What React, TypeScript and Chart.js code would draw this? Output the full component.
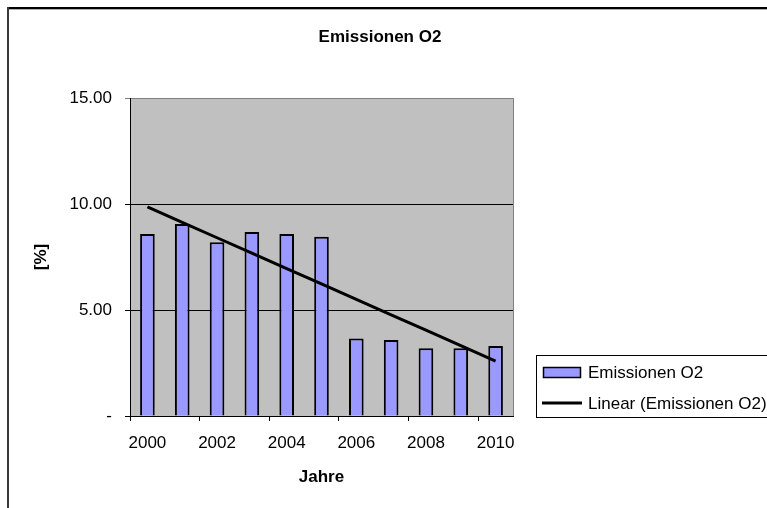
import React, { useEffect, useRef } from "react";
import { Chart, registerables } from "chart.js";

Chart.register(...registerables);

const years = ["2000", "2001", "2002", "2003", "2004", "2005", "2006", "2007", "2008", "2009", "2010"];
const emissions = [8.58, 9.06, 8.2, 8.68, 8.58, 8.46, 3.66, 3.58, 3.2, 3.2, 3.3];
const yTicks = [0, 5, 10, 15];
const chartTitle = "Emissionen O2";
const yTitle = "[%]";
const xTitle = "Jahre";
const seriesName = "Emissionen O2";
const trendName = "Linear (Emissionen O2)";

// least-squares linear trend of the series (as Excel's "Linear" trendline)
function linearTrend(vals: number[]): number[] {
  const n = vals.length;
  const mx = (n - 1) / 2;
  const my = vals.reduce((a, b) => a + b, 0) / n;
  let num = 0;
  let den = 0;
  vals.forEach((v, i) => {
    num += (i - mx) * (v - my);
    den += (i - mx) * (i - mx);
  });
  const slope = num / den;
  return vals.map((_, i) => my + slope * (i - mx));
}

const FONT = "'Liberation Sans', Arial, sans-serif";
const BAR_COLOR = "#9999FF";

const decorPlugin = {
  id: "decor",
  beforeDraw(chart: any) {
    const { ctx, chartArea } = chart;
    ctx.save();
    ctx.fillStyle = "#ffffff";
    ctx.fillRect(0, 0, chart.width, chart.height);
    ctx.fillStyle = "#C0C0C0";
    ctx.fillRect(chartArea.left, chartArea.top, chartArea.right - chartArea.left, chartArea.bottom - chartArea.top);
    ctx.restore();
  },
  afterDraw(chart: any) {
    const { ctx, chartArea } = chart;
    ctx.save();
    // outer chart border
    ctx.strokeStyle = "#000000";
    ctx.lineWidth = 2;
    ctx.beginPath();
    ctx.moveTo(7, 8);
    ctx.lineTo(chart.width, 8);
    ctx.stroke();
    ctx.strokeStyle = "#b0b0b0";
    ctx.lineWidth = 1;
    ctx.beginPath();
    ctx.moveTo(9, 9.5);
    ctx.lineTo(chart.width, 9.5);
    ctx.stroke();
    ctx.strokeStyle = "#3a3a3a";
    ctx.lineWidth = 2;
    ctx.beginPath();
    ctx.moveTo(8, 7);
    ctx.lineTo(8, chart.height);
    ctx.stroke();

    // plot area right border
    ctx.strokeStyle = "#808080";
    ctx.lineWidth = 1;
    ctx.beginPath();
    ctx.moveTo(chartArea.right + 0.5, chartArea.top);
    ctx.lineTo(chartArea.right + 0.5, chartArea.bottom);
    ctx.stroke();

    // titles
    ctx.fillStyle = "#000000";
    ctx.textAlign = "center";
    ctx.textBaseline = "middle";
    ctx.font = `bold 17px ${FONT}`;
    ctx.fillText(chartTitle, 380, 37);
    ctx.fillText(xTitle, (chartArea.left + chartArea.right) / 2, 477);
    ctx.save();
    ctx.translate(41, (chartArea.top + chartArea.bottom) / 2);
    ctx.rotate(-Math.PI / 2);
    ctx.fillText(yTitle, 0, 0);
    ctx.restore();

    // legend
    ctx.fillStyle = "#ffffff";
    ctx.fillRect(536.5, 355.5, 240, 62);
    ctx.strokeStyle = "#000000";
    ctx.lineWidth = 1;
    ctx.strokeRect(536.5, 355.5, 240, 62);
    ctx.fillStyle = BAR_COLOR;
    ctx.fillRect(543.5, 367.5, 37, 10);
    ctx.lineWidth = 1.5;
    ctx.strokeRect(543.5, 367.5, 37, 10);
    ctx.strokeStyle = "#000000";
    ctx.lineWidth = 3;
    ctx.beginPath();
    ctx.moveTo(542, 403);
    ctx.lineTo(582, 403);
    ctx.stroke();
    ctx.fillStyle = "#000000";
    ctx.textAlign = "left";
    ctx.font = `17px ${FONT}`;
    ctx.fillText(seriesName, 588, 373);
    ctx.fillText(trendName, 588, 404);
    ctx.restore();
  },
};

export default function App() {
  const canvasRef = useRef<HTMLCanvasElement | null>(null);

  useEffect(() => {
    document.body.style.margin = "0";
    const canvas = canvasRef.current;
    if (!canvas) return;
    const trend = linearTrend(emissions);
    const chart = new Chart(canvas, {
      type: "bar",
      data: {
        labels: years,
        datasets: [
          {
            type: "line" as const,
            label: trendName,
            data: trend,
            borderColor: "#000000",
            borderWidth: 3,
            pointRadius: 0,
            fill: false,
            tension: 0,
            order: 0,
          },
          {
            type: "bar" as const,
            label: seriesName,
            data: emissions,
            backgroundColor: BAR_COLOR,
            borderColor: "#000000",
            borderWidth: 2,
            categoryPercentage: 1,
            barPercentage: 0.42,
            order: 1,
          },
        ],
      },
      plugins: [decorPlugin],
      options: {
        animation: false,
        responsive: false,
        maintainAspectRatio: false,
        devicePixelRatio: 1,
        layout: { padding: { left: 0, top: 98, right: 254, bottom: 0 } },
        plugins: {
          legend: { display: false },
          title: { display: false },
          tooltip: { enabled: false },
        },
        scales: {
          x: {
            type: "category",
            offset: true,
            afterFit: (scale: any) => {
              scale.height = 92;
            },
            grid: {
              offset: true,
              drawOnChartArea: false,
              drawTicks: true,
              tickLength: 5,
              color: (ctx: any) => (ctx.index % 2 === 0 ? "#000000" : "rgba(0,0,0,0)"),
            },
            border: { display: true, color: "#000000", width: 1 },
            ticks: {
              autoSkip: false,
              maxRotation: 0,
              padding: 12,
              color: "#000000",
              font: { family: FONT, size: 17 },
              callback: (_v: any, i: number) => (i % 2 === 0 ? years[i] : ""),
            },
          },
          y: {
            type: "linear",
            min: yTicks[0],
            max: yTicks[yTicks.length - 1],
            afterFit: (scale: any) => {
              scale.width = 130;
            },
            afterBuildTicks: (scale: any) => {
              scale.ticks = yTicks.map((v) => ({ value: v }));
            },
            grid: {
              drawTicks: true,
              tickLength: 5,
              lineWidth: 1,
              color: (ctx: any) =>
                ctx.tick && ctx.tick.value === yTicks[yTicks.length - 1] ? "#808080" : "#000000",
            },
            border: { display: true, color: "#000000", width: 1 },
            ticks: {
              padding: 13,
              color: "#000000",
              font: { family: FONT, size: 17 },
              callback: (v: any) => (Number(v) === 0 ? "-" : Number(v).toFixed(2)),
            },
          },
        },
      },
    } as any);
    return () => chart.destroy();
  }, []);

  return (
    <div style={{ width: 767, height: 508 }}>
      <canvas ref={canvasRef} width={767} height={508} style={{ display: "block", width: 767, height: 508 }} />
    </div>
  );
}
